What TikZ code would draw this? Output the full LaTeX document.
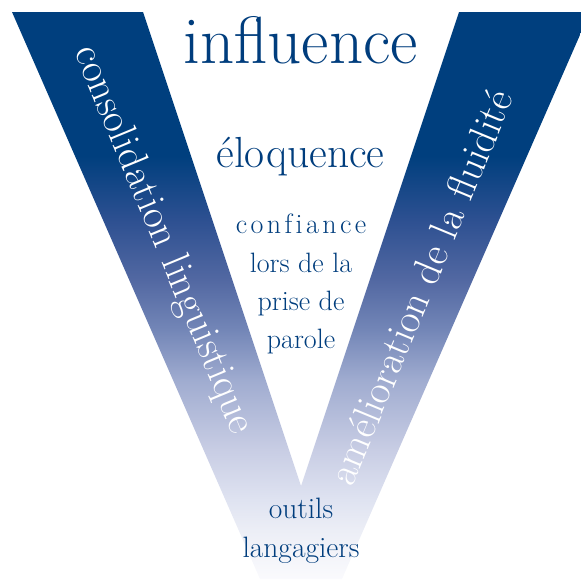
\documentclass[tikz,border=0pt]{standalone}
\usepackage{fontspec}
\definecolor{vdark}{RGB}{0,63,126}
\definecolor{vtext}{RGB}{0,61,125}
\definecolor{s1}{RGB}{250,250,253}
\definecolor{s2}{RGB}{236,238,246}
\definecolor{s3}{RGB}{223,227,241}
\definecolor{s4}{RGB}{200,205,228}
\definecolor{s5}{RGB}{160,172,208}
\definecolor{s6}{RGB}{115,134,183}
\definecolor{s7}{RGB}{82,104,162}
\definecolor{s8}{RGB}{45,80,145}
\pgfdeclareverticalshading{veeshade}{100bp}{%
  color(0bp)=(s1); color(25bp)=(s1); color(29.3bp)=(s2); color(31.97bp)=(s3);
  color(36.4bp)=(s4); color(42.5bp)=(s5); color(47bp)=(s6); color(51.4bp)=(s7);
  color(56.7bp)=(s8); color(62.3bp)=(vdark); color(75bp)=(vdark); color(100bp)=(vdark)}
\newcommand\lsk{\kern3.4pt}
\tikzset{
  dark/.style={text=vtext, inner sep=0pt, anchor=base},
  armtext/.style={text=white, inner sep=0pt, font=\fontsize{41}{44}\selectfont},
}
\begin{document}
\begin{tikzpicture}[x=1pt,y=-1pt]
\useasboundingbox (0,0) rectangle (581,579);
\shade[shading=veeshade] (12,12) -- (143,12) -- (301,486) -- (459,12) -- (581,12)
  -- (581,32.6) -- (342,579) -- (260,579) -- cycle;
\node[dark, font=\fontsize{67}{70}\selectfont] (infl) at (300.5,63) {influence};
\node[dark, font=\fontsize{43.5}{46}\selectfont] (eloq) at (300.5,167) {éloquence};
\node[dark, font=\fontsize{28}{30}\selectfont] (conf1) at (301,233) {c\lsk o\lsk n\lsk f\lsk i\lsk a\lsk n\lsk c\lsk e};
\node[dark, font=\fontsize{28}{30}\selectfont] (conf2) at (301,272) {lors de la};
\node[dark, font=\fontsize{28}{30}\selectfont] (conf3) at (301,310) {prise de};
\node[dark, font=\fontsize{28}{30}\selectfont] (conf4) at (301,348) {parole};
\node[dark, font=\fontsize{29.5}{32}\selectfont] (out1) at (301,518) {outils};
\node[dark, font=\fontsize{29.5}{32}\selectfont] (out2) at (301,557) {langagiers};
\node[armtext, rotate=-67.5] (left) at (163,240) {consolidation linguistique};
\node[armtext, rotate=67.5] (right) at (420,287) {amélioration de la fluidité};
\end{tikzpicture}
\end{document}
